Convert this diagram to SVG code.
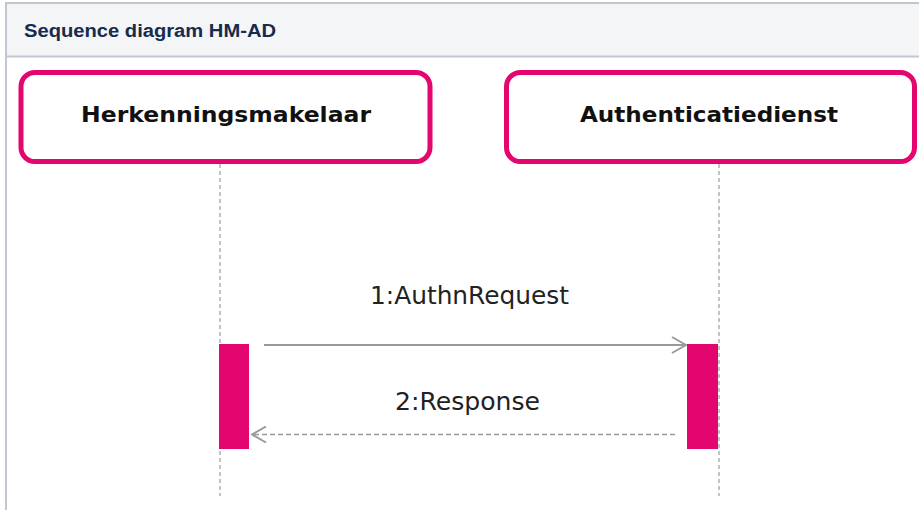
<svg xmlns="http://www.w3.org/2000/svg" width="919" height="510" viewBox="0 0 919 510">
<style>
.title{font-family:"Liberation Sans",Arial,sans-serif;font-weight:bold;font-size:18px;fill:#172b4d}
.node rect{fill:#fff;stroke:#e4066f;stroke-width:5}
.nlabel{font-family:"DejaVu Sans",Verdana,sans-serif;font-weight:bold;font-size:21px;fill:#111;text-anchor:middle}
.life{stroke:#888;stroke-width:1;stroke-dasharray:4,3;fill:none}
.act{fill:#e4066f}
.msg{stroke:#999;stroke-width:2;fill:none}
.ret{stroke:#999;stroke-width:1.5;stroke-dasharray:5,3;fill:none}
.mlabel{font-family:"DejaVu Sans",Verdana,sans-serif;font-size:24px;fill:#222;text-anchor:middle}
</style>
<defs>
<marker id="open" viewBox="0 0 16 18" refX="15" refY="9" markerWidth="16" markerHeight="18" markerUnits="userSpaceOnUse" orient="auto">
<path d="M1,1 L15,9 L1,17" fill="none" stroke="#999" stroke-width="2"/>
</marker>
</defs>
<rect x="0" y="0" width="919" height="510" fill="#fff"/>
<g id="panel-header">
<rect x="6" y="3" width="913" height="53" fill="#f4f5f7"/>
<line x1="6" y1="3" x2="919" y2="3" stroke="#c1c7d0" stroke-width="2"/>
<line x1="6" y1="56.5" x2="919" y2="56.5" stroke="#c1c7d0" stroke-width="2"/>
<line x1="6" y1="2" x2="6" y2="510" stroke="#c1c7d0" stroke-width="2"/>
<text class="title" x="24" y="37" textLength="252" lengthAdjust="spacingAndGlyphs">Sequence diagram HM-AD</text>
</g>
<g id="lifelines">
<line class="life" x1="220" y1="164" x2="220" y2="496"/>
<line class="life" x1="719" y1="164" x2="719" y2="496"/>
</g>
<g id="node-herkenningsmakelaar" class="node">
<rect x="21" y="72.5" width="409" height="89" rx="14"/>
<text class="nlabel" x="226" y="122" textLength="290" lengthAdjust="spacingAndGlyphs">Herkenningsmakelaar</text>
</g>
<g id="node-authenticatiedienst" class="node">
<rect x="506.5" y="72.5" width="408" height="89" rx="14"/>
<text class="nlabel" x="709" y="122" textLength="258" lengthAdjust="spacingAndGlyphs">Authenticatiedienst</text>
</g>
<g id="activations">
<rect class="act" x="219" y="344" width="30" height="105"/>
<rect class="act" x="687" y="344" width="31" height="105"/>
</g>
<g id="connectors">
<line class="msg" x1="264" y1="345" x2="686" y2="345" marker-end="url(#open)"/>
<text class="mlabel" x="469.5" y="304" textLength="199" lengthAdjust="spacingAndGlyphs">1:AuthnRequest</text>
<line class="ret" x1="675" y1="434.5" x2="252" y2="434.5" marker-end="url(#open)"/>
<text class="mlabel" x="467.5" y="410" textLength="145" lengthAdjust="spacingAndGlyphs">2:Response</text>
</g>
</svg>
